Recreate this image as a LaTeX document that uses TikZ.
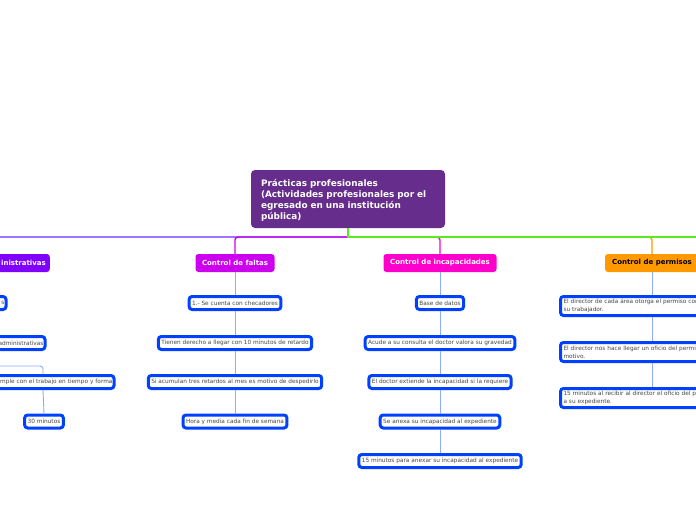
\documentclass[tikz,border=0pt]{standalone}
\usepackage{fontspec}
\setmainfont{DejaVu Sans}
\definecolor{rootc}{RGB}{102,45,140}
\definecolor{admc}{RGB}{128,0,255}
\definecolor{faltc}{RGB}{204,0,238}
\definecolor{incc}{RGB}{255,0,204}
\definecolor{perc}{RGB}{255,153,0}
\definecolor{greenc}{RGB}{90,235,30}
\definecolor{violc}{RGB}{110,40,255}
\definecolor{leafb}{RGB}{0,64,255}
\definecolor{linkc}{RGB}{140,170,255}
\definecolor{leaft}{RGB}{70,70,70}
\begin{document}
\begin{tikzpicture}[x=1pt,y=-1pt,
  rootbox/.style={fill=rootc,rounded corners=4pt,text=white,font=\bfseries\fontsize{8.9}{11}\selectfont,
    text width=174pt,align=left,inner xsep=10pt,minimum height=58pt,anchor=center},
  lvlone/.style={rounded corners=3pt,text=white,font=\bfseries\fontsize{7}{8}\selectfont,
    minimum height=18pt,inner xsep=4pt,inner ysep=0pt},
  leaf/.style={draw=leafb,line width=3pt,rounded corners=3pt,fill=white,text=leaft,
    font=\fontsize{5.8}{8}\selectfont,minimum height=13pt,inner xsep=3pt,inner ysep=0pt},
  link/.style={draw=linkc,line width=0.9pt},
  branch/.style={line width=1.4pt,rounded corners=3pt}
]
\useasboundingbox (0,0) rectangle (696,520);

% root
\node[rootbox] (root) at (348,199) {\rule{0pt}{9.8pt}Prácticas profesionales\\(Actividades profesionales por el\\egresado en una institución\\pública)};

% level one
\node[lvlone,fill=admc,text width=152pt,align=right,anchor=east] (adm) at (50,263) {inistrativas};
\node[lvlone,fill=faltc,minimum width=79pt] (falt) at (235,263) {Control de faltas};
\node[lvlone,fill=incc,minimum width=113pt] (inc) at (440,263) {Control de incapacidades};
\node[lvlone,fill=perc,text=black,minimum width=94pt] (per) at (652,263) {Control de permisos};

% branch lines
\coordinate (hub) at (348,237);
\coordinate (leftend) at (-40,237);
\coordinate (rightend) at (740,237);
\draw[branch,violc] (hub) -- (leftend) -- (adm.north -| leftend);
\draw[branch,faltc] (hub) -| (falt.north);
\draw[branch,incc] (hub) -| (inc.north);
\draw[branch,perc] (hub) -| (per.north);
\draw[branch,greenc,rounded corners=0pt] (root.south) -- (hub) -- (rightend);

% left column (cut off)
\node[leaf,text width=70pt,align=right,anchor=east,inner xsep=1.5pt] (a1) at (7.5,303) {s};
\node[leaf,text width=149pt,align=right,anchor=east,inner xsep=1.5pt] (a2) at (46.5,343) {administrativas};
\node[leaf,text width=139pt,align=right,anchor=east,inner xsep=1.5pt] (a3) at (115.5,382) {umple con el trabajo en tiempo y forma};
\node[leaf] (a4) at (44,421.5) {30 minutos};
\draw[link] (adm.south -| a1.north) -- (a1.north);
\draw[link] (a1.south) -- (a1.south |- a2.north);
\draw[link,rounded corners=3pt] (a2.south -| a1.south) -- ++(0,15) -| (a3.north);
\draw[link] (a3.south) -- (a4.north);

% faltas column
\node[leaf] (f1) at (235,303) {1.- Se cuenta con checadores};
\node[leaf] (f2) at (235,343) {Tienen derecho a llegar con 10 minutos de retardo};
\node[leaf] (f3) at (235,382) {Si acumulan tres retardos al mes es motivo de despedirlo};
\node[leaf] (f4) at (235,421.5) {Hora y media cada fin de semana};
\draw[link] (falt.south) -- (f1.north);
\draw[link] (f1.south) -- (f2.north);
\draw[link] (f2.south) -- (f3.north);
\draw[link] (f3.south) -- (f4.north);

% incapacidades column
\node[leaf] (i1) at (440,303) {Base de datos};
\node[leaf] (i2) at (440,343) {Acude a su consulta el doctor valora su gravedad};
\node[leaf] (i3) at (440,382) {El doctor extiende la incapacidad si la requiere};
\node[leaf] (i4) at (440,421.5) {Se anexa su incapacidad al expediente};
\node[leaf] (i5) at (440,461) {15 minutos para anexar su incapacidad al expediente};
\draw[link] (inc.south) -- (i1.north);
\draw[link] (i1.south) -- (i2.north);
\draw[link] (i2.south) -- (i3.north);
\draw[link] (i3.south) -- (i4.north);
\draw[link] (i4.south) -- (i5.north);

% permisos column
\node[leaf,text width=177pt,align=left,minimum height=19pt] (p1) at (652,306) {El director de cada área otorga el permiso corre\\su trabajador.};
\node[leaf,text width=177pt,align=left,minimum height=19pt] (p2) at (652,352) {El director nos hace llegar un oficio del permiso\\motivo.};
\node[leaf,text width=177pt,align=left,minimum height=19pt] (p3) at (652,398) {15 minutos al recibir al director el oficio del per\\a su expediente.};
\draw[link] (per.south) -- (p1.north);
\draw[link] (p1.south) -- (p2.north);
\draw[link] (p2.south) -- (p3.north);
\end{tikzpicture}
\end{document}
